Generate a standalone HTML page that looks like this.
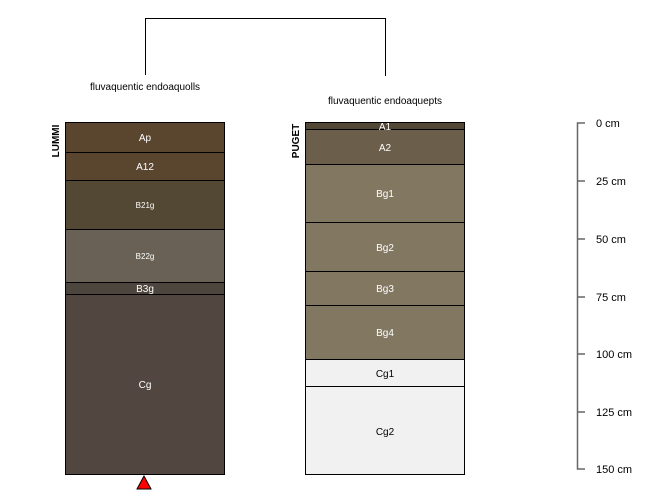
<!DOCTYPE html>
<html><head><style>body{margin:0;background:#fff}svg{display:block}</style></head><body>
<svg width="650" height="500" xmlns="http://www.w3.org/2000/svg" font-family="Liberation Sans, sans-serif">
<path d="M145.5 75V18.5H385.5V76" fill="none" stroke="#000" stroke-width="1"/>
<text x="145" y="90" font-size="10" text-anchor="middle">fluvaquentic endoaquolls</text>
<text x="385" y="104" font-size="10" text-anchor="middle">fluvaquentic endoaquepts</text>
<g stroke="#000" stroke-width="1">
<rect x="65.5" y="122.5" width="159" height="30" fill="#5a452f"/>
<rect x="65.5" y="152.5" width="159" height="28" fill="#5a452f"/>
<rect x="65.5" y="180.5" width="159" height="49" fill="#524834"/>
<rect x="65.5" y="229.5" width="159" height="53" fill="#696155"/>
<rect x="65.5" y="282.5" width="159" height="12" fill="#4c463e"/>
<rect x="65.5" y="294.5" width="159" height="180" fill="#524640"/>
<rect x="305.5" y="122.5" width="159" height="7" fill="#524734"/>
<rect x="305.5" y="129.5" width="159" height="35" fill="#6b5e4a"/>
<rect x="305.5" y="164.5" width="159" height="58" fill="#827862"/>
<rect x="305.5" y="222.5" width="159" height="49" fill="#827862"/>
<rect x="305.5" y="271.5" width="159" height="34" fill="#827862"/>
<rect x="305.5" y="305.5" width="159" height="54" fill="#827862"/>
<rect x="305.5" y="359.5" width="159" height="27" fill="#f1f1f1"/>
<rect x="305.5" y="386.5" width="159" height="88" fill="#f1f1f1"/>
</g>
<g font-size="10" text-anchor="middle" fill="#fff">
<text x="145" y="141">Ap</text>
<text x="145" y="170">A12</text>
<text x="145" y="208" font-size="8">B21g</text>
<text x="145" y="259" font-size="8">B22g</text>
<text x="145" y="292">B3g</text>
<text x="145" y="388">Cg</text>
<text x="385" y="130">A1</text>
<text x="385" y="151">A2</text>
<text x="385" y="197">Bg1</text>
<text x="385" y="251">Bg2</text>
<text x="385" y="292">Bg3</text>
<text x="385" y="336">Bg4</text>
<text x="385" y="377" fill="#000">Cg1</text>
<text x="385" y="435" fill="#000">Cg2</text>
</g>
<text transform="translate(59,141) rotate(-90)" font-size="10" font-weight="bold" text-anchor="middle">LUMMI</text>
<text transform="translate(299,141) rotate(-90)" font-size="10" font-weight="bold" text-anchor="middle">PUGET</text>
<polygon points="144,476 137,489 151,489" fill="#f00" stroke="#000" stroke-width="1"/>
<g stroke="#666" stroke-width="1.5" fill="none">
<path d="M585 123H577.5V469H585"/>
<path d="M577 181H585M577 239H585M577 297H585M577 354H585M577 412H585"/>
</g>
<g font-size="11" fill="#000">
<text x="596" y="127">0 cm</text>
<text x="596" y="185">25 cm</text>
<text x="596" y="243">50 cm</text>
<text x="596" y="301">75 cm</text>
<text x="596" y="358">100 cm</text>
<text x="596" y="416">125 cm</text>
<text x="596" y="473">150 cm</text>
</g>
</svg>
</body></html>
